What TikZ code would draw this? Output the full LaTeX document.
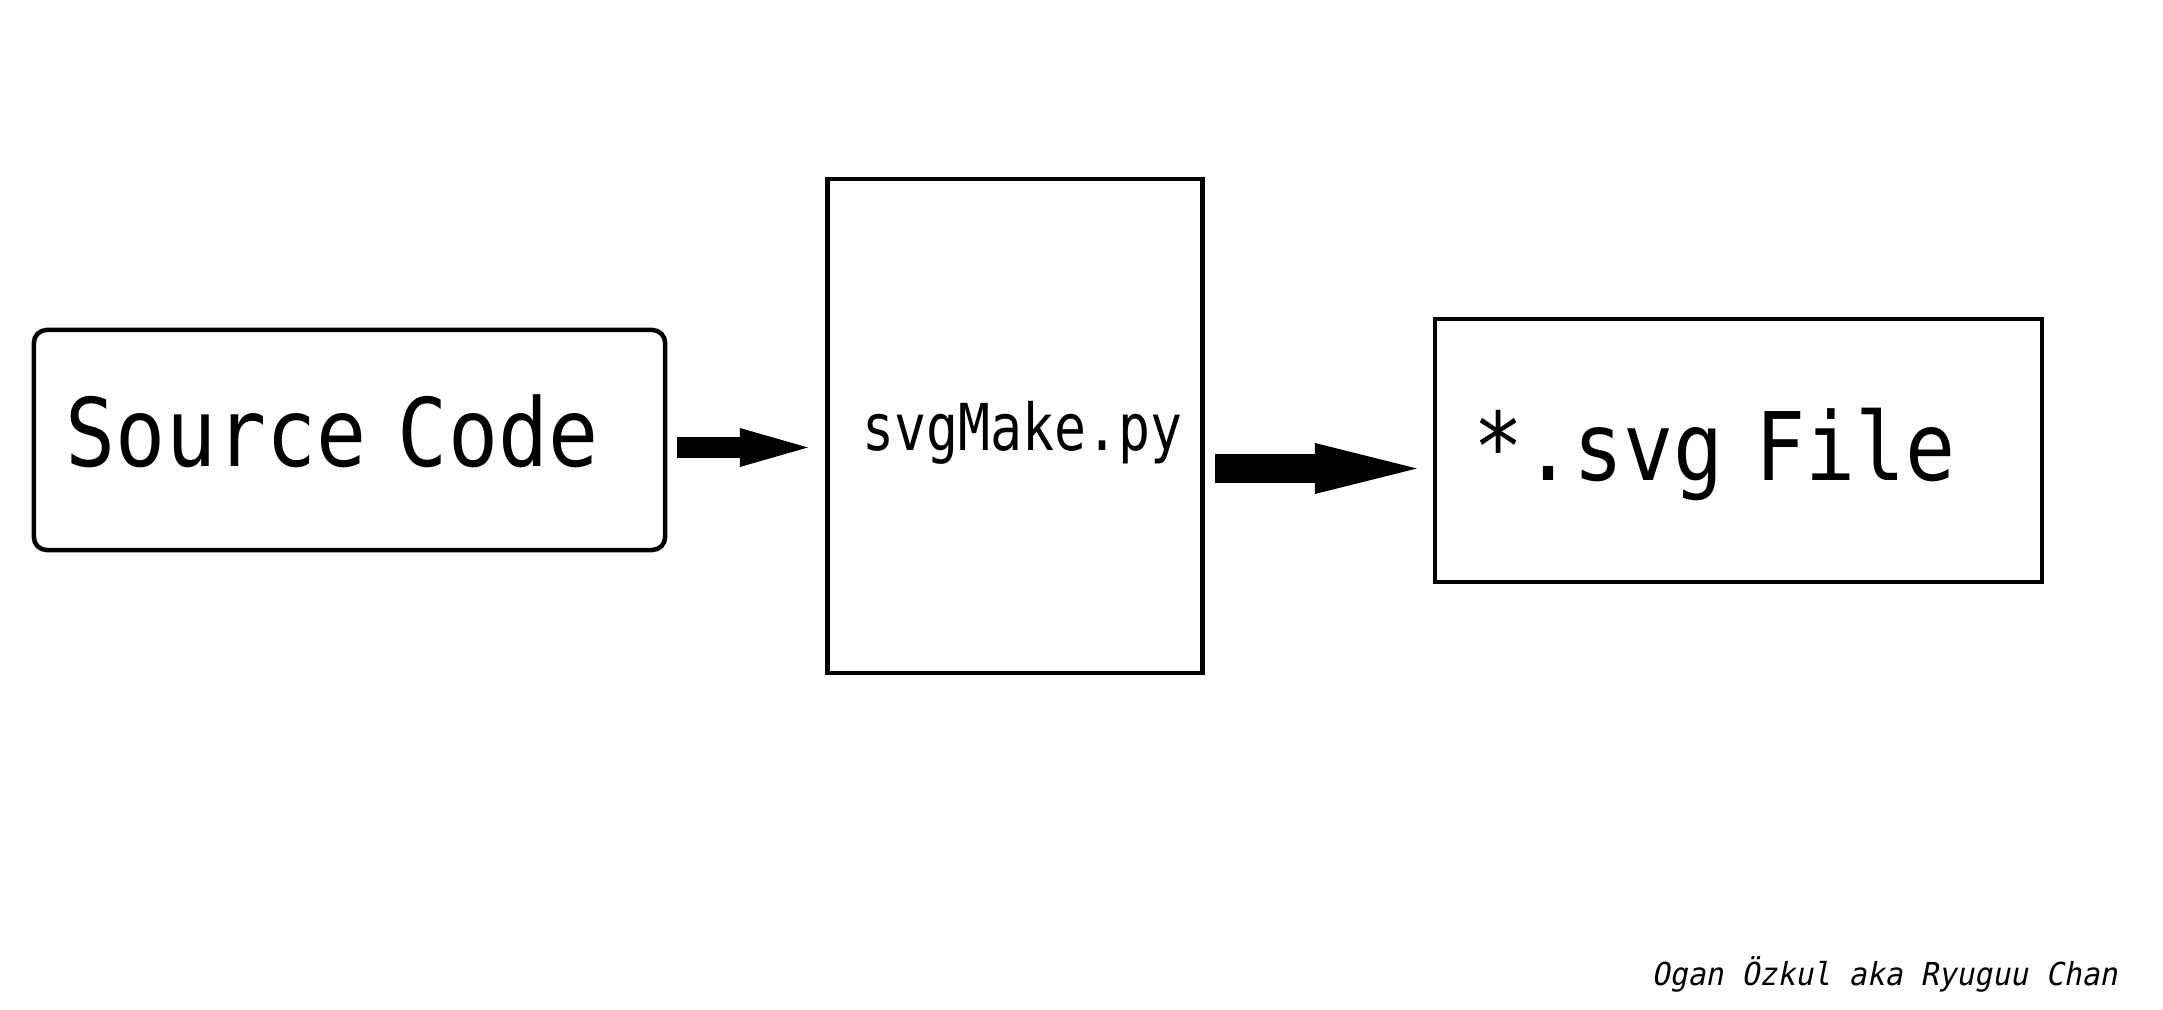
\documentclass[tikz,border=0pt]{standalone}
\usepackage{fontspec}
\usetikzlibrary{arrows.meta}
\newfontfamily\gothic[FakeStretch=0.88]{DejaVu Sans Mono}
\newfontfamily\gothicsmall[FakeStretch=0.822]{DejaVu Sans Mono}
\newfontfamily\gothicslant[FakeStretch=0.94,FakeSlant=0.2]{DejaVu Sans Mono}

\begin{document}
\begin{tikzpicture}
   [x=0.01cm, y=-0.01cm,
   block/.style={draw=black, line width=0.045cm, outer sep=0pt, inner ysep=0pt, align=left},
   big/.style={font=\gothic\fontsize{26.9pt}{30pt}\selectfont},
   small/.style={font=\gothicsmall\fontsize{18.4pt}{20pt}\selectfont},
   flow/.style={line width=#1, line cap=butt},
   sign/.style={font=\gothicslant\fontsize{9pt}{10pt}\selectfont, inner sep=0pt}]
\useasboundingbox (0,0) rectangle (2163,1010);

\node[block, big, rounded corners=0.13cm, text width=5.67cm, inner xsep=0.32cm, minimum height=2.2cm,
   text height=0.72cm, text depth=0.2cm] (src) at (349.5,440) {Source Code};
\node[block, small, text width=3.05cm, inner xsep=0.35cm, minimum height=4.935cm,
   text height=0.6cm, text depth=0.12cm] (mk) at (1015,426) {svgMake.py};
\node[block, big, text width=5.30cm, inner xsep=0.385cm, minimum height=2.63cm,
   text height=0.75cm, text depth=0.16cm] (out) at (1738.5,450.5) {*.svg File};

\coordinate (a1) at ([yshift=-0.075cm]src.east);
\coordinate (a2) at ([yshift=-0.425cm]mk.east);
\draw[flow=0.21cm, -{Triangle[length=0.68cm,width=0.39cm,line width=0pt]}, shorten <=0.12cm, shorten >=0.195cm] (a1) -- (a1 -| mk.west);
\draw[flow=0.29cm, -{Triangle[length=1.02cm,width=0.51cm,line width=0pt]}, shorten <=0.125cm, shorten >=0.18cm] (a2) -- (a2 -| out.west);

\node[sign, anchor=base west] (sig) at (1651,985) {Ogan Özkul aka Ryuguu Chan};
\end{tikzpicture}
\end{document}
